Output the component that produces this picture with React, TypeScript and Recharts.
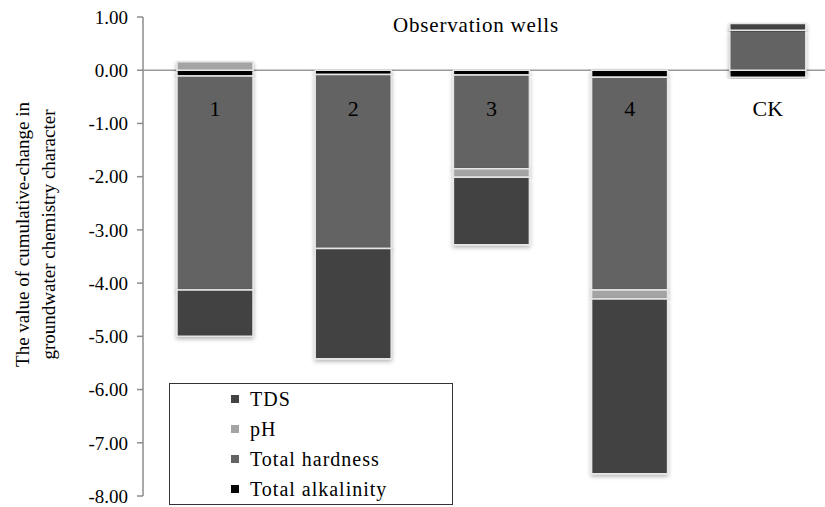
import React from 'react';
import { BarChart, Bar, XAxis, YAxis, CartesianGrid, Legend, ReferenceDot } from 'recharts';

const wells = ['1', '2', '3', '4', 'CK'];
const tds = [-0.87, -2.07, -1.27, -3.28, 0.13];
const ph = [0.16, 0, -0.16, -0.17, 0];
const hardness = [-4.02, -3.27, -1.76, -4.0, 0.75];
const alkalinity = [-0.11, -0.08, -0.09, -0.13, -0.13];
const yTicks = [1, 0, -1, -2, -3, -4, -5, -6, -7, -8];

const seriesKeys = ['alkalinity', 'hardness', 'ph', 'tds'];
const seriesNames: Record<string, string> = {
  tds: 'TDS',
  ph: 'pH',
  hardness: 'Total hardness',
  alkalinity: 'Total alkalinity',
};
const seriesColors: Record<string, string> = {
  tds: '#434343',
  ph: '#a4a4a4',
  hardness: '#636363',
  alkalinity: '#050505',
};
const legendOrder = ['tds', 'ph', 'hardness', 'alkalinity'];

const data = wells.map((w, i) => ({
  well: w,
  tds: tds[i],
  ph: ph[i],
  hardness: hardness[i],
  alkalinity: alkalinity[i],
}));

const FONT = "'Liberation Serif', 'Times New Roman', serif";

const YLabel = (props: any) => {
  const vb = props.viewBox || { x: 0, y: 0, width: 0, height: 0 };
  const cy = vb.y + vb.height / 2 - 22;
  const x1 = vb.x + 29;
  const x2 = vb.x + 55;
  return (
    <g>
      <text x={x1} y={cy} textAnchor="middle" transform={`rotate(-90, ${x1}, ${cy})`} fontSize={19} fontFamily={FONT} fill="#000">
        The value of cumulative-change in
      </text>
      <text x={x2} y={cy} textAnchor="middle" transform={`rotate(-90, ${x2}, ${cy})`} fontSize={19} fontFamily={FONT} fill="#000">
        groundwater chemistry character
      </text>
    </g>
  );
};

const renderLegend = () => (
  <div
    style={{
      border: '1.5px solid #333',
      width: 284,
      height: 122,
      boxSizing: 'border-box',
      background: '#fff',
      paddingLeft: 61,
      fontFamily: FONT,
      fontSize: 20,
      letterSpacing: 1,
      color: '#000',
    }}
  >
    {legendOrder.map((k) => (
      <div key={k} style={{ display: 'flex', alignItems: 'center', height: 30 }}>
        <span style={{ display: 'inline-block', width: 8, height: 8, background: seriesColors[k], marginRight: 11 }} />
        <span>{seriesNames[k]}</span>
      </div>
    ))}
  </div>
);

export default function App() {
  return (
    <div style={{ position: 'absolute', left: 0, top: 0, width: 825, height: 507, overflow: 'hidden', background: '#fff' }}>
      <div
        style={{
          position: 'absolute',
          left: 376,
          top: 13,
          width: 200,
          textAlign: 'center',
          fontFamily: FONT,
          fontSize: 21,
          letterSpacing: 0.8,
          color: '#000',
          zIndex: 2,
        }}
      >
        Observation wells
      </div>
      <BarChart
        width={840}
        height={507}
        data={data}
        stackOffset="sign"
        margin={{ top: 17, right: 3, bottom: 11, left: 0 }}
      >
        <defs>
          <filter id="barShadow" x="-20%" y="-20%" width="140%" height="140%">
            <feDropShadow dx="0" dy="2" stdDeviation="2" floodColor="#000" floodOpacity="0.3" />
          </filter>
        </defs>
        <CartesianGrid horizontal vertical={false} horizontalValues={[0]} stroke="#9a9a9a" strokeWidth={1.5} />
        <XAxis dataKey="well" hide padding={{ left: 3, right: 0 }} />
        <YAxis
          width={143}
          domain={[-8, 1]}
          ticks={yTicks}
          interval={0}
          allowDataOverflow
          tickFormatter={(v: number) => v.toFixed(2)}
          axisLine={{ stroke: '#8c8c8c', strokeWidth: 1.5 }}
          tickLine={{ stroke: '#8c8c8c', strokeWidth: 1.5 }}
          tickSize={6}
          tickMargin={9}
          tick={{ fill: '#000', fontSize: 19, fontFamily: FONT }}
          label={<YLabel />}
        />
        {seriesKeys.map((k) => (
          <Bar
            key={k}
            dataKey={k}
            name={seriesNames[k]}
            stackId="a"
            fill={seriesColors[k]}
            stroke="#e6e6e6"
            strokeWidth={1.5}
            barSize={76}
            filter="url(#barShadow)"
            isAnimationActive={false}
          />
        ))}
        {wells.map((w) => (
          <ReferenceDot
            key={w}
            x={w}
            y={0}
            r={0}
            fill="none"
            stroke="none"
            label={{ value: w, position: 'bottom', offset: 30, fontSize: 22, fontFamily: FONT, fill: '#000' }}
          />
        ))}
        <Legend
          layout="vertical"
          align="center"
          verticalAlign="middle"
          content={renderLegend}
          wrapperStyle={{ left: 169, top: 383, width: 284, height: 122 }}
        />
      </BarChart>
    </div>
  );
}
